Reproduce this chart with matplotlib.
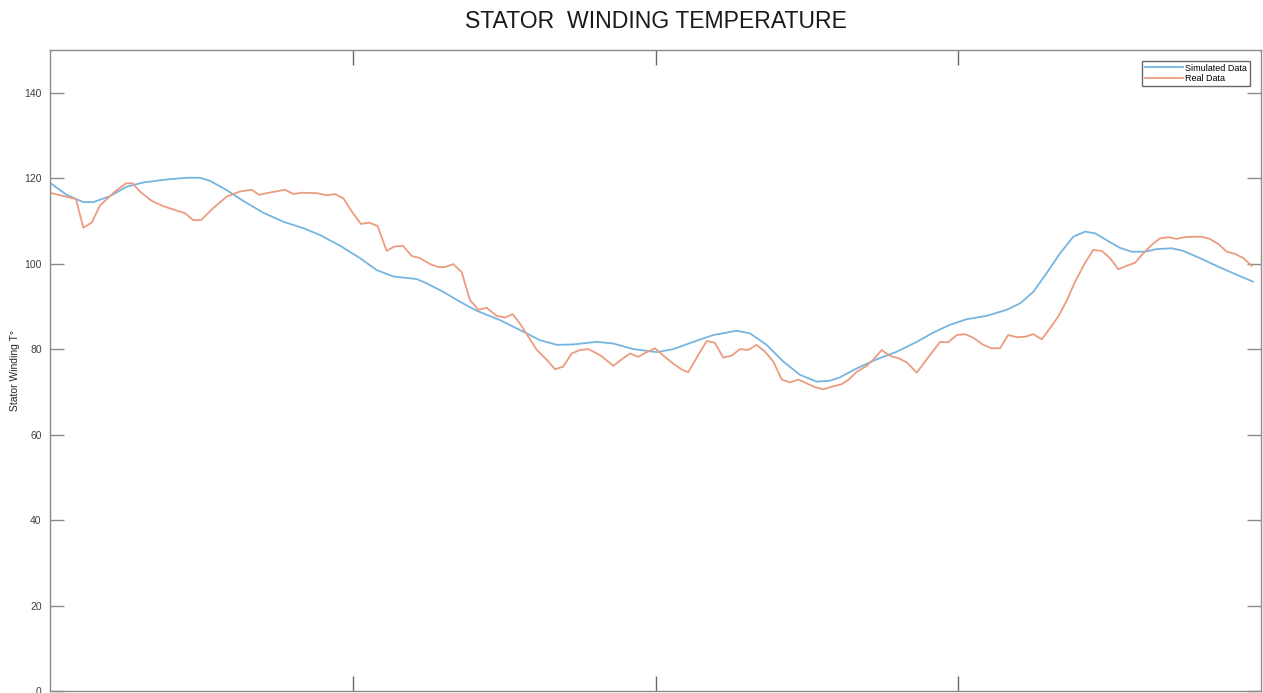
import matplotlib.pyplot as plt

plt.rcParams['font.family'] = ['Liberation Sans', 'DejaVu Sans']

# simulated stator winding temperature
sim_x = [0, 5.5, 11.0, 14.3, 19.8, 25.3, 30.8, 38.5, 45.2, 49.5, 52.8, 58.4, 63.8,
         70.5, 77.1, 83.7, 89.2, 95.8, 102.4, 107.9, 113.4, 121.1, 124.4, 129.9,
         135.4, 140.9, 148.6, 156.3, 161.8, 167.4, 172.8, 180.6, 186.1, 192.7,
         200.4, 205.9, 212.5, 219.1, 226.8, 231.2, 236.7, 242.2, 247.7, 253.2,
         257.6, 260.9, 266.5, 273.0, 279.7, 286.3, 291.8, 297.3, 302.8, 309.4,
         316.0, 320.4, 324.8, 329.2, 333.6, 338.0, 341.9, 345.2, 349.0, 353.4,
         357.3, 361.7, 365.5, 370.5, 374.3, 379.8, 386.5, 392.0, 397.3]
sim_y = [118.9, 116.1, 114.4, 114.4, 115.8, 118.0, 119.0, 119.7, 120.1, 120.1,
         119.4, 117.2, 114.7, 111.9, 109.8, 108.3, 106.7, 104.2, 101.3, 98.5,
         97.0, 96.4, 95.4, 93.4, 91.1, 89.0, 86.8, 84.1, 82.1, 81.0, 81.1, 81.7,
         81.3, 80.0, 79.3, 80.0, 81.7, 83.3, 84.3, 83.7, 81.0, 77.1, 74.0, 72.4,
         72.6, 73.4, 75.5, 77.6, 79.4, 81.7, 83.9, 85.7, 87.0, 87.8, 89.2, 90.7,
         93.4, 97.8, 102.4, 106.3, 107.5, 107.1, 105.5, 103.7, 102.8, 102.8,
         103.4, 103.6, 103.0, 101.3, 99.1, 97.4, 95.8]

# measured stator winding temperature
real_x = [0, 8.6, 11.0, 13.8, 16.5, 21.5, 25.1, 27.3, 29.7, 33.6, 36.9, 40.2,
          44.6, 47.3, 49.9, 53.9, 58.4, 62.8, 66.6, 69.1, 71.6, 77.6, 80.4, 83.1,
          88.1, 91.4, 94.1, 96.9, 99.7, 102.7, 105.5, 108.2, 111.2, 113.7, 116.5,
          119.5, 122.2, 125.5, 128.3, 130.5, 133.2, 136.0, 138.7, 141.5, 144.2,
          147.5, 150.3, 152.8, 155.2, 160.8, 164.1, 166.8, 169.5, 172.3, 175.1,
          177.8, 181.7, 186.1, 188.8, 191.6, 194.3, 197.1, 199.8, 203.1, 206.4,
          209.0, 210.8, 214.1, 216.9, 219.6, 222.4, 225.2, 227.9, 230.6, 233.4,
          236.2, 238.9, 241.7, 244.4, 247.2, 249.9, 252.7, 255.4, 258.2, 261.5,
          263.7, 266.5, 269.8, 272.0, 274.7, 277.5, 280.2, 283.0, 286.3, 290.1,
          294.0, 296.7, 299.5, 302.2, 304.9, 308.3, 311.0, 313.8, 316.5, 319.3,
          322.1, 324.8, 327.6, 330.3, 333.0, 335.8, 338.6, 341.9, 344.6, 347.4,
          350.1, 352.9, 355.6, 358.4, 361.1, 363.9, 366.6, 369.4, 372.1, 374.9,
          377.6, 380.4, 383.1, 385.9, 388.7, 391.4, 394.2, 396.9]
real_y = [116.6, 115.1, 108.4, 109.6, 113.6, 116.9, 118.8, 118.8, 116.9, 114.7,
          113.6, 112.8, 111.8, 110.2, 110.2, 113.0, 115.7, 116.9, 117.3, 116.1,
          116.5, 117.3, 116.3, 116.6, 116.5, 116.0, 116.3, 115.3, 112.2, 109.3,
          109.6, 108.8, 103.0, 104.0, 104.2, 101.8, 101.3, 99.9, 99.2, 99.2, 99.9,
          98.0, 91.5, 89.2, 89.7, 87.8, 87.4, 88.2, 86.0, 79.8, 77.5, 75.3, 75.9,
          79.0, 79.8, 80.0, 78.6, 76.1, 77.6, 79.0, 78.2, 79.3, 80.2, 78.2, 76.3,
          75.1, 74.6, 78.6, 81.9, 81.5, 78.0, 78.5, 80.0, 79.8, 81.0, 79.4, 77.1,
          72.9, 72.2, 72.9, 72.0, 71.1, 70.6, 71.2, 71.8, 72.8, 74.7, 76.1, 77.6,
          79.8, 78.4, 77.9, 76.9, 74.5, 78.1, 81.7, 81.6, 83.3, 83.5, 82.7, 81.0,
          80.2, 80.2, 83.3, 82.8, 82.9, 83.5, 82.3, 84.9, 87.6, 91.3, 95.8, 100.2,
          103.2, 103.0, 101.3, 98.7, 99.5, 100.2, 102.4, 104.4, 105.9, 106.2,
          105.8, 106.2, 106.3, 106.3, 105.8, 104.6, 102.8, 102.3, 101.3, 99.5]

y_ticks = [0, 20, 40, 60, 80, 100, 120, 140]
x_ticks = [100, 200, 300]

fig = plt.figure(figsize=(12.63, 6.93), dpi=100)
ax = fig.add_axes([50 / 1263, 2 / 693, 1211 / 1263, 641 / 693])

ax.plot(sim_x, sim_y, color='#76b5e1', lw=1.3, label='Simulated Data')
ax.plot(real_x, real_y, color='#ec9c80', lw=1.3, label='Real Data')

ax.set_xlim(0, 400)
ax.set_ylim(0, 150)
ax.set_yticks(y_ticks)
ax.set_xticks(x_ticks)
ax.set_xticklabels([])

for s in ax.spines.values():
    s.set_color('#8a8a8a')
    s.set_linewidth(1.0)
ax.tick_params(axis='y', direction='in', length=10, width=1, color='#8a8a8a',
               labelsize=7.5, labelcolor='#404040', right=True, pad=6)
ax.tick_params(axis='x', direction='in', length=11, width=1, color='#6a6a6a',
               top=True)

ax.set_ylabel('Stator Winding T°', fontsize=7.5, color='#262626')
ax.yaxis.set_label_coords(-0.025, 0.5)
fig.text(656 / 1263, 1 - 21 / 693, 'STATOR  WINDING TEMPERATURE',
         ha='center', va='center', fontsize=16.6, color='#1a1a1a')

leg = ax.legend(loc='upper right', fontsize=6.5, frameon=True, fancybox=False,
                handlelength=4.2, handletextpad=0.3, borderpad=0.3,
                labelspacing=0.2, bbox_to_anchor=(0.9945, 0.99))
leg.get_frame().set_edgecolor('#444444')
leg.get_frame().set_linewidth(1.0)

fig.savefig('out.png', dpi=100)
